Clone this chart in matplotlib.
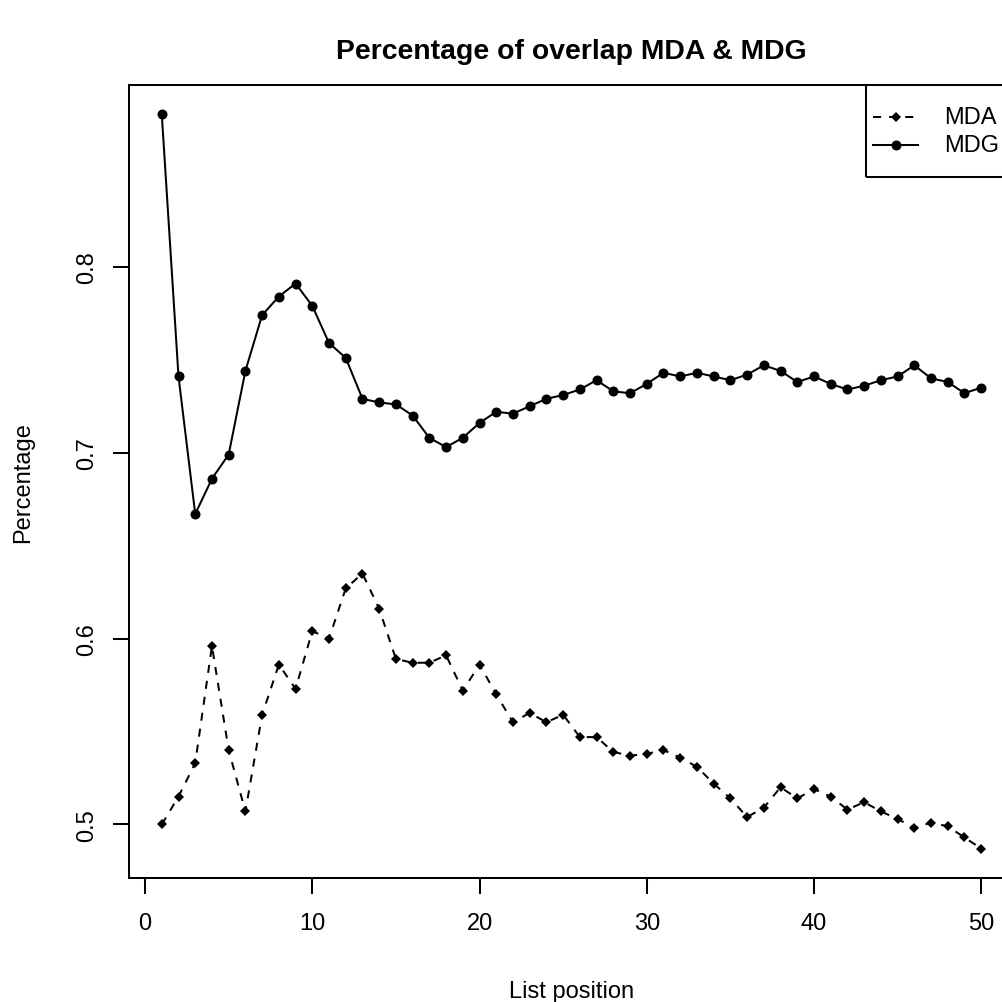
import matplotlib
matplotlib.use("Agg")
import matplotlib.pyplot as plt
from matplotlib.patches import Rectangle
from matplotlib.lines import Line2D

# List positions and overlap percentages for the two importance measures
positions = list(range(1, 51))
mda = [0.500, 0.515, 0.533, 0.596, 0.540, 0.507, 0.559, 0.586, 0.573, 0.604,
       0.600, 0.627, 0.635, 0.616, 0.589, 0.587, 0.587, 0.591, 0.572, 0.586,
       0.570, 0.555, 0.560, 0.555, 0.559, 0.547, 0.547, 0.539, 0.537, 0.538,
       0.540, 0.536, 0.531, 0.522, 0.514, 0.504, 0.509, 0.520, 0.514, 0.519,
       0.515, 0.508, 0.512, 0.507, 0.503, 0.498, 0.501, 0.499, 0.493, 0.487]
mdg = [0.882, 0.741, 0.667, 0.686, 0.699, 0.744, 0.774, 0.784, 0.791, 0.779,
       0.759, 0.751, 0.729, 0.727, 0.726, 0.720, 0.708, 0.703, 0.708, 0.716,
       0.722, 0.721, 0.725, 0.729, 0.731, 0.734, 0.739, 0.733, 0.732, 0.737,
       0.743, 0.741, 0.743, 0.741, 0.739, 0.742, 0.747, 0.744, 0.738, 0.741,
       0.737, 0.734, 0.736, 0.739, 0.741, 0.747, 0.740, 0.738, 0.732, 0.735]
x_ticks = [0, 10, 20, 30, 40, 50]
y_ticks = [0.5, 0.6, 0.7, 0.8]
series_names = ["MDA", "MDG"]

plt.rcParams["font.family"] = ["Liberation Sans", "DejaVu Sans"]

W = H = 1003
fig = plt.figure(figsize=(W / 100, H / 100), dpi=100)

# plot region in pixels (right edge runs past the canvas)
left_px, right_px, top_px, bottom_px = 129, 1014, 86, 879
ax = fig.add_axes([left_px / W, 1 - bottom_px / H,
                   (right_px - left_px) / W, (bottom_px - top_px) / H])

LW = 1.45
FS = 17
DIAMOND = 5.4
DOT = 7.2

ax.plot(positions, mda, color="black", lw=LW, linestyle=(0, (4, 4)),
        marker="D", markersize=DIAMOND, markeredgewidth=0, zorder=3)
ax.plot(positions, mdg, color="black", lw=LW, linestyle="-",
        marker="o", markersize=DOT, markeredgewidth=0, zorder=3)

def padded(lo, hi, frac=0.04):
    r = hi - lo
    return lo - frac * r, hi + frac * r

ax.set_xlim(*padded(min(positions), max(positions)))
ax.set_ylim(*padded(min(min(mda), min(mdg)), max(max(mda), max(mdg))))

ax.set_xticks(x_ticks)
ax.set_xticklabels([str(t) for t in x_ticks])
ax.set_yticks(y_ticks)
ax.set_yticklabels([f"{t:.1f}" for t in y_ticks], rotation=90, va="center")
ax.tick_params(direction="out", length=11.3, width=LW, labelsize=FS,
               color="black")
ax.tick_params(axis="x", pad=13)
ax.tick_params(axis="y", pad=11)
for s in ax.spines.values():
    s.set_linewidth(LW)
    s.set_color("black")

fig.text((left_px + right_px) / 2 / W, 1 - 52 / H,
         "Percentage of overlap MDA & MDG", ha="center", va="center",
         fontsize=FS * 1.2, fontweight="bold")
fig.text((left_px + right_px) / 2 / W, 1 - 998 / H, "List position",
         ha="center", va="baseline", fontsize=FS)
fig.text(29 / W, 1 - (top_px + bottom_px) / 2 / H, "Percentage",
         ha="center", va="baseline", rotation=90, rotation_mode="anchor",
         fontsize=FS)

# legend box in the top-right corner of the plot region
def ax_x(px):
    return (px - left_px) / (right_px - left_px)

def ax_y(py):
    return 1 - (py - top_px) / (bottom_px - top_px)

box_l, box_b = ax_x(866), ax_y(178)
ax.add_patch(Rectangle((box_l, box_b), 1 - box_l, 1 - box_b,
                       transform=ax.transAxes, fill=False, lw=LW,
                       edgecolor="black", clip_on=False, zorder=5))
rows = [ax_y(118), ax_y(146)]
styles = [dict(linestyle=(0, (4, 4)), marker="D", markersize=DIAMOND),
          dict(linestyle="-", marker="o", markersize=DOT)]
for name, yrow, st in zip(series_names, rows, styles):
    ax.add_line(Line2D([ax_x(873), ax_x(918)], [yrow, yrow],
                       transform=ax.transAxes, color="black", lw=LW,
                       linestyle=st["linestyle"], clip_on=False, zorder=6))
    ax.add_line(Line2D([ax_x(896)], [yrow], transform=ax.transAxes,
                       color="black", marker=st["marker"],
                       markersize=st["markersize"], markeredgewidth=0,
                       linestyle="none", clip_on=False, zorder=6))
    ax.text(ax_x(944), yrow, name, transform=ax.transAxes, ha="left",
            va="center", fontsize=FS, zorder=6)

fig.savefig("out.png", dpi=100, facecolor="white")
